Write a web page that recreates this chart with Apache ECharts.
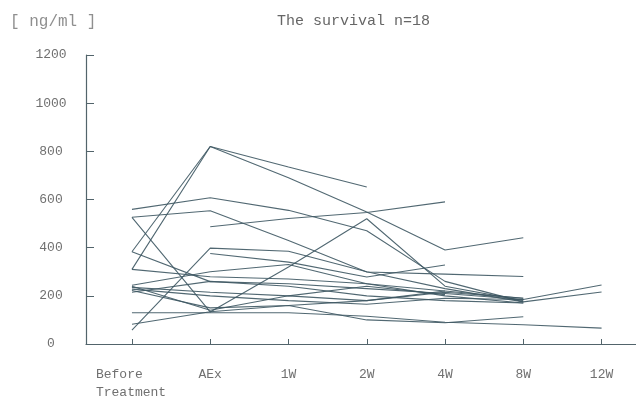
<!DOCTYPE html>
<html>
<head>
<meta charset="utf-8">
<script src="https://cdn.jsdelivr.net/npm/echarts@6/dist/echarts.min.js"></script>
<style>
  html, body { margin: 0; padding: 0; background: #ffffff; }
  #chart { width: 636px; height: 408px; }
</style>
</head>
<body>
<div id="chart"></div>
<script>
// Time points of the follow-up
const timePoints = ['Before\nTreatment', 'AEx', '1W', '2W', '4W', '8W', '12W'];
const yTicks = [0, 200, 400, 600, 800, 1000, 1200];

// Serum level (ng/ml) of each surviving patient; null = not measured
const p01 = [383, 820, 735, 652, null, null, null];
const p02 = [310, 820, 690, 548, 390, 441, null];
const p03 = [559, 607, 555, 470, 260, 175, 216];
const p04 = [526, 553, 430, 299, 290, 280, null];
const p05 = [526, 133, 320, 520, 240, 180, null];
const p06 = [383, 259, 250, 230, 210, 185, 245];
const p07 = [310, 279, 270, 250, 220, 190, null];
const p08 = [58, 398, 385, 300, 230, 175, null];
const p09 = [null, 487, 521, 546, 590, null, null];
const p10 = [null, 376, 340, 278, 328, null, null];
const p11 = [244, 300, 330, 250, 200, 170, null];
const p12 = [235, 215, 200, 180, 215, 190, null];
const p13 = [228, 200, 180, 165, 190, 185, null];
const p14 = [222, 150, 160, 180, 220, null, null];
const p15 = [130, 130, 130, 115, 90, 80, 66];
const p16 = [82, 134, 160, 100, 88, 113, null];
const p17 = [215, 260, 240, 200, 180, 170, null];
const p18 = [240, 140, 200, 240, 205, null, null];

const patients = [p01, p02, p03, p04, p05, p06, p07, p08, p09,
                  p10, p11, p12, p13, p14, p15, p16, p17, p18];

const labelFont = 'Liberation Mono, DejaVu Sans Mono, monospace';
const textGray = '#707070';
const lineColor = '#3e5863';
const axisColor = '#52646b';

const chart = echarts.init(document.getElementById('chart'), null, { renderer: 'canvas' });

const series = patients.map(function (vals, k) {
  return {
    name: 'patient ' + (k + 1),
    type: 'line',
    data: vals.map(function (v, i) { return [i, v]; }),
    symbol: 'none',
    connectNulls: false,
    silent: true,
    lineStyle: { color: lineColor, width: 1.1, opacity: 0.9 }
  };
});

chart.setOption({
  animation: false,
  backgroundColor: '#ffffff',
  title: [
    {
      text: 'The survival n=18',
      left: 272, top: 9,
      textStyle: { fontFamily: labelFont, fontSize: 15, fontWeight: 'normal', color: '#666666' }
    },
    {
      text: '[ ng/ml ]',
      left: 5, top: 9,
      textStyle: { fontFamily: labelFont, fontSize: 16, fontWeight: 'normal', color: '#8f8f8f' }
    }
  ],
  grid: { left: 86, right: 0, top: 55, bottom: 64, containLabel: false },
  xAxis: {
    type: 'value',
    min: -0.587,
    max: 6.44,
    splitLine: { show: false },
    axisLine: { show: true, onZero: false, lineStyle: { color: axisColor, width: 1.2 } },
    axisTick: {
      show: true, inside: true, length: 5,
      customValues: [0, 1, 2, 3, 4, 5, 6],
      lineStyle: { color: axisColor, width: 1 }
    },
    axisLabel: {
      customValues: [0, 1, 2, 3, 4, 5, 6],
      margin: 22,
      fontFamily: labelFont,
      fontSize: 13,
      color: textGray,
      lineHeight: 18,
      verticalAlign: 'top',
      formatter: function (v) {
        const name = timePoints[Math.round(v)];
        if (name.indexOf('\n') >= 0) {
          return name.split('\n').map(function (s) { return '{l|' + s + '}'; }).join('\n');
        }
        return name;
      },
      rich: {
        l: { width: 72, align: 'left', fontFamily: labelFont, fontSize: 13, color: textGray, lineHeight: 18 }
      }
    }
  },
  yAxis: {
    type: 'value',
    min: yTicks[0],
    max: yTicks[yTicks.length - 1],
    interval: 200,
    splitLine: { show: false },
    axisLine: { show: true, onZero: false, lineStyle: { color: axisColor, width: 1.2 } },
    axisTick: { show: true, inside: true, length: 8, lineStyle: { color: axisColor, width: 1 } },
    axisLabel: {
      margin: 35,
      align: 'center',
      fontFamily: labelFont,
      fontSize: 13,
      color: textGray,
      formatter: function (v) { return String(v); }
    }
  },
  series: series
});
</script>
</body>
</html>
